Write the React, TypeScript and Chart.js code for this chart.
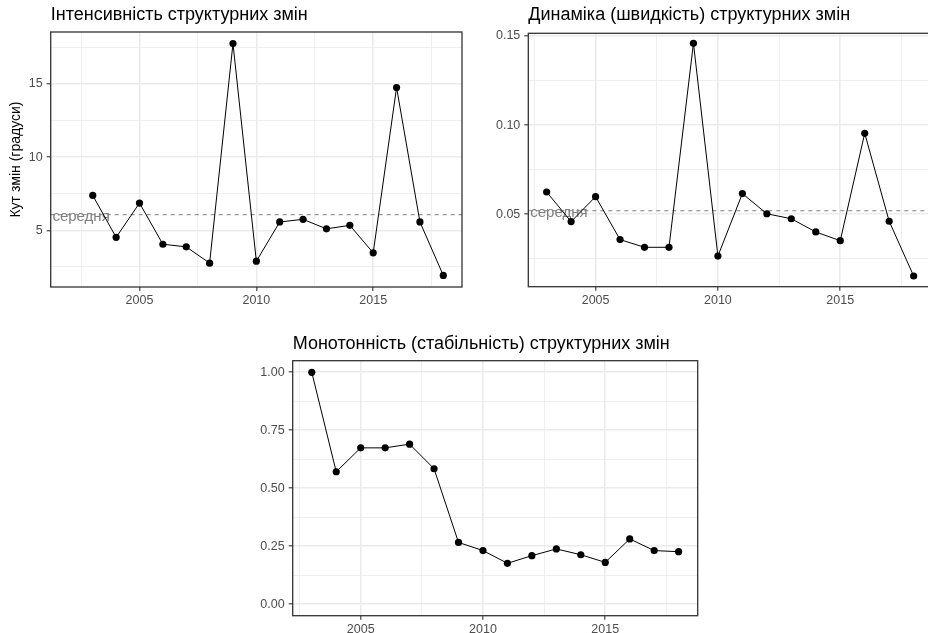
import React, { useEffect, useRef } from "react";
import { Chart, registerables } from "chart.js";

Chart.register(...registerables);

// ---------- data ----------
const YEARS = [2003, 2004, 2005, 2006, 2007, 2008, 2009, 2010, 2011, 2012, 2013, 2014, 2015, 2016, 2017, 2018];
const INTENSITY = [7.38, 4.52, 6.86, 4.05, 3.87, 2.76, 17.75, 2.89, 5.57, 5.75, 5.10, 5.34, 3.46, 14.75, 5.57, 1.92];
const DYNAMICS = [0.0625, 0.0459, 0.0599, 0.0358, 0.0315, 0.0315, 0.1459, 0.0266, 0.0616, 0.0503, 0.0475, 0.0401, 0.0352, 0.0954, 0.0461, 0.0154];
const MONOTONICITY = [1.0, 0.571, 0.674, 0.674, 0.69, 0.584, 0.266, 0.231, 0.176, 0.209, 0.238, 0.213, 0.18, 0.281, 0.231, 0.226];

const MEAN_INTENSITY = 6.07;
const MEAN_DYNAMICS = 0.052;
const MEAN_LABEL = "середня";

const TITLE_1 = "Інтенсивність структурних змін";
const TITLE_2 = "Динаміка (швидкість) структурних змін";
const TITLE_3 = "Монотонність (стабільність) структурних змін";
const Y_TITLE_1 = "Кут змін (градуси)";

const X_GRID = [2002.5, 2005, 2007.5, 2010, 2012.5, 2015, 2017.5];
const X_LABELED = [2005, 2010, 2015];
const Y1_GRID = [2.5, 5, 7.5, 10, 12.5, 15, 17.5];
const Y1_LABELED = [5, 10, 15];
const Y2_GRID = [0.025, 0.05, 0.075, 0.1, 0.125, 0.15];
const Y2_LABELED = [0.05, 0.1, 0.15];
const Y3_GRID = [0, 0.125, 0.25, 0.375, 0.5, 0.625, 0.75, 0.875, 1.0];
const Y3_LABELED = [0, 0.25, 0.5, 0.75, 1.0];

const FONT = "'Liberation Sans', Arial, sans-serif";

const has = (list: number[], v: number) => list.some((x) => Math.abs(x - v) < 1e-9);

const meanLinePlugin = {
  id: "meanLine",
  beforeDatasetsDraw(chart: any, _args: any, opts: any) {
    if (opts == null || opts.value == null) return;
    const { ctx, chartArea: a, scales } = chart;
    const y = scales.y.getPixelForValue(opts.value);
    ctx.save();
    ctx.beginPath();
    ctx.rect(a.left, a.top, a.right - a.left, a.bottom - a.top);
    ctx.clip();
    ctx.beginPath();
    ctx.setLineDash([4, 4]);
    ctx.strokeStyle = "#8c8c8c";
    ctx.lineWidth = 1.1;
    ctx.moveTo(a.left, y);
    ctx.lineTo(a.right, y);
    ctx.stroke();
    ctx.setLineDash([]);
    ctx.font = `15px ${FONT}`;
    ctx.fillStyle = "#7f7f7f";
    ctx.textAlign = "center";
    ctx.textBaseline = "middle";
    ctx.fillText(opts.label, scales.x.getPixelForValue(opts.labelX), y + 2);
    ctx.restore();
  },
};

const borderPlugin = {
  id: "panelBorder",
  afterDraw(chart: any) {
    const { ctx, chartArea: a } = chart;
    ctx.save();
    ctx.strokeStyle = "#333333";
    ctx.lineWidth = 1.3;
    ctx.strokeRect(a.left, a.top, a.right - a.left, a.bottom - a.top);
    ctx.restore();
  },
};

interface PanelProps {
  left: number;
  top: number;
  width: number;
  height: number;
  title: string;
  values: number[];
  xMin: number;
  xMax: number;
  yMin: number;
  yMax: number;
  yGrid: number[];
  yLabeled: number[];
  yDecimals: number;
  yAxisWidth: number;
  xAxisHeight: number;
  padRight: number;
  titlePadTop: number;
  titlePadBottom: number;
  yTitle?: string;
  mean?: number;
  meanLabelX?: number;
}

function Panel(p: PanelProps) {
  const ref = useRef<HTMLCanvasElement | null>(null);
  useEffect(() => {
    if (!ref.current) return;
    const chart = new Chart(ref.current, {
      type: "line",
      data: {
        datasets: [
          {
            data: YEARS.map((yr, i) => ({ x: yr, y: p.values[i] })),
            borderColor: "#000000",
            backgroundColor: "#000000",
            borderWidth: 1,
            pointRadius: 3.6,
            pointBorderWidth: 0,
            pointBackgroundColor: "#000000",
            tension: 0,
          },
        ],
      },
      plugins: [meanLinePlugin, borderPlugin],
      options: {
        animation: false,
        responsive: true,
        maintainAspectRatio: false,
        layout: { padding: { left: 0, right: p.padRight, top: 0, bottom: 0 } },
        plugins: {
          legend: { display: false },
          tooltip: { enabled: false },
          title: {
            display: true,
            text: p.title,
            align: "start",
            fullSize: false,
            color: "#000000",
            font: { family: FONT, size: 18, weight: "normal" },
            padding: { top: p.titlePadTop, bottom: p.titlePadBottom },
          },
          meanLine: p.mean != null ? { value: p.mean, label: MEAN_LABEL, labelX: p.meanLabelX } : {},
        } as any,
        scales: {
          x: {
            type: "linear",
            min: p.xMin,
            max: p.xMax,
            afterBuildTicks: (scale: any) => {
              scale.ticks = X_GRID.map((v) => ({ value: v }));
            },
            afterFit: (scale: any) => {
              scale.height = p.xAxisHeight;
            },
            ticks: {
              autoSkip: false,
              maxRotation: 0,
              padding: 2,
              color: "#4d4d4d",
              font: { family: FONT, size: 12.5 },
              callback: (v: any) => (has(X_LABELED, Number(v)) ? String(v) : ""),
            },
            grid: {
              drawTicks: true,
              tickLength: 4,
              color: () => "#ebebeb",
              lineWidth: (c: any) => (c.tick && has(X_LABELED, c.tick.value) ? 1.6 : 0.8),
              tickColor: (c: any) => (c.tick && has(X_LABELED, c.tick.value) ? "#333333" : "rgba(0,0,0,0)"),
              tickWidth: 1.1,
            },
            border: { display: false },
          },
          y: {
            type: "linear",
            min: p.yMin,
            max: p.yMax,
            afterBuildTicks: (scale: any) => {
              scale.ticks = p.yGrid.map((v) => ({ value: v }));
            },
            afterFit: (scale: any) => {
              scale.width = p.yAxisWidth;
            },
            ticks: {
              autoSkip: false,
              padding: 4,
              color: "#4d4d4d",
              font: { family: FONT, size: 12.5 },
              callback: (v: any) =>
                has(p.yLabeled, Number(v)) ? Number(v).toFixed(p.yDecimals) : "",
            },
            grid: {
              drawTicks: true,
              tickLength: 4,
              color: () => "#ebebeb",
              lineWidth: (c: any) => (c.tick && has(p.yLabeled, c.tick.value) ? 1.6 : 0.8),
              tickColor: (c: any) => (c.tick && has(p.yLabeled, c.tick.value) ? "#333333" : "rgba(0,0,0,0)"),
              tickWidth: 1.1,
            },
            border: { display: false },
            title: p.yTitle
              ? {
                  display: true,
                  text: p.yTitle,
                  color: "#000000",
                  font: { family: FONT, size: 14 },
                  padding: { top: 8, bottom: 0 },
                }
              : { display: false },
          },
        },
      } as any,
    });
    return () => chart.destroy();
  }, []);
  return (
    <div
      style={{
        position: "absolute",
        left: p.left,
        top: p.top,
        width: p.width,
        height: p.height,
      }}
    >
      <canvas ref={ref} />
    </div>
  );
}

export default function App() {
  return (
    <div
      style={{
        position: "fixed",
        left: 0,
        top: 0,
        width: 928,
        height: 633,
        overflow: "hidden",
        background: "#ffffff",
      }}
    >
      <Panel
        left={0}
        top={0}
        width={470}
        height={310}
        title={TITLE_1}
        values={INTENSITY}
        xMin={2001.2}
        xMax={2018.8}
        yMin={1.13}
        yMax={18.54}
        yGrid={Y1_GRID}
        yLabeled={Y1_LABELED}
        yDecimals={0}
        yAxisWidth={50.7}
        xAxisHeight={23}
        padRight={8}
        titlePadTop={4.2}
        titlePadBottom={6.2}
        yTitle={Y_TITLE_1}
        mean={MEAN_INTENSITY}
        meanLabelX={2002.5}
      />
      <Panel
        left={470}
        top={0}
        width={470}
        height={310}
        title={TITLE_2}
        values={DYNAMICS}
        xMin={2002.25}
        xMax={2018.75}
        yMin={0.0094}
        yMax={0.1515}
        yGrid={Y2_GRID}
        yLabeled={Y2_LABELED}
        yDecimals={2}
        yAxisWidth={58.3}
        xAxisHeight={23.3}
        padRight={8}
        titlePadTop={4.2}
        titlePadBottom={7.5}
        mean={MEAN_DYNAMICS}
        meanLabelX={2003.5}
      />
      <Panel
        left={240}
        top={320}
        width={470}
        height={313}
        title={TITLE_3}
        values={MONOTONICITY}
        xMin={2002.22}
        xMax={2018.78}
        yMin={-0.05}
        yMax={1.05}
        yGrid={Y3_GRID}
        yLabeled={Y3_LABELED}
        yDecimals={2}
        yAxisWidth={52.7}
        xAxisHeight={17.3}
        padRight={12.3}
        titlePadTop={12.8}
        titlePadBottom={6.3}
      />
    </div>
  );
}
